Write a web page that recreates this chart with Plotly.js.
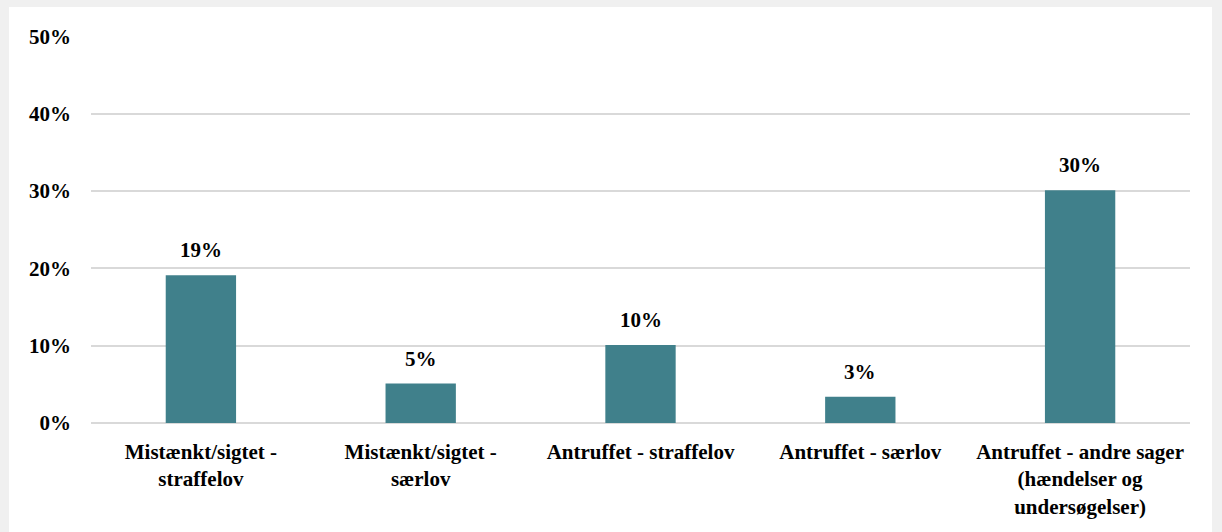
<!DOCTYPE html>
<html>
<head>
<meta charset="utf-8">
<script src="https://cdn.plot.ly/plotly-3.0.1.min.js"></script>
<style>html,body{margin:0;padding:0;background:#f0f0f0;}#chart{width:1222px;height:532px;}</style>
</head>
<body>
<div id="chart"></div>
<script>
const categories = [
  "Mistænkt/sigtet -<br>straffelov",
  "Mistænkt/sigtet -<br>særlov",
  "Antruffet - straffelov",
  "Antruffet - særlov",
  "Antruffet - andre sager<br>(hændelser og<br>undersøgelser)"
];
const shares = [0.191, 0.051, 0.101, 0.034, 0.301];
const tickValues = [0, 0.1, 0.2, 0.3, 0.4, 0.5];
const tickLabels = ["0%", "10%", "20%", "30%", "40%", "50%"];

const fam = "Liberation Serif, Times New Roman, serif";
const bold = {family: fam, size: 21, color: "#000", weight: "bold"};

const trace = {
  type: "bar",
  x: categories,
  y: shares,
  marker: {color: "#40808b"},
  hoverinfo: "skip"
};

const annotations = categories.map((c, i) => ({
  x: c, y: shares[i], xref: "x", yref: "y",
  text: Math.round(shares[i] * 100) + "%",
  showarrow: false, yanchor: "bottom", yshift: 11,
  font: bold
}));

const layout = {
  width: 1222, height: 532,
  margin: {l: 91, r: 32, t: 36, b: 109},
  paper_bgcolor: "#f0f0f0",
  plot_bgcolor: "rgba(0,0,0,0)",
  font: bold,
  bargap: 0.68,
  showlegend: false,
  annotations: annotations,
  xaxis: {
    type: "category",
    tickfont: bold,
    showgrid: false, zeroline: false, showline: false, ticks: "",
    ticklabelstandoff: 14
  },
  yaxis: {
    range: [0, 0.5005],
    tickvals: tickValues, ticktext: tickLabels,
    tickfont: bold,
    showgrid: true, gridcolor: "#d9d9d9", gridwidth: 2,
    zeroline: true, zerolinecolor: "#d9d9d9", zerolinewidth: 2,
    showline: false, ticks: "",
    ticklabelstandoff: 19
  },
  shapes: [{
    type: "rect", xref: "paper", yref: "paper", layer: "below",
    x0: (9 - 91) / 1099, x1: (1212 - 91) / 1099,
    y0: (423 - 540) / 387, y1: (423 - 7) / 387,
    fillcolor: "#ffffff", line: {width: 0}
  }]
};

Plotly.newPlot("chart", [trace], layout, {displayModeBar: false, staticPlot: true});
</script>
</body>
</html>
